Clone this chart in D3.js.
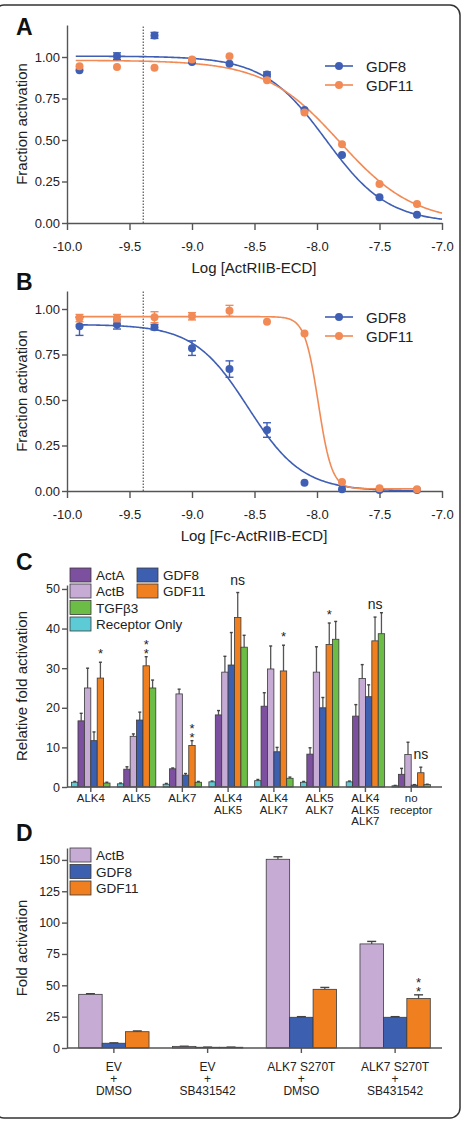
<!DOCTYPE html>
<html>
<head>
<meta charset="utf-8">
<script src="https://cdn.jsdelivr.net/npm/d3@7"></script>
<style>
  body { margin: 0; background: #fff; }
  text { font-family: "Liberation Sans", Arial, Helvetica, sans-serif; fill: #222; }
</style>
</head>
<body>
<svg id="fig" width="465" height="1128"></svg>
<script>
// ---- Panels A and B: dose response ----
const doseLog = [-9.9, -9.6, -9.3, -9.0, -8.7, -8.4, -8.1, -7.8, -7.5, -7.2];
const xTicksAB = [-10, -9.5, -9, -8.5, -8, -7.5, -7];
const xTickLabelsAB = ["-10.0", "-9.5", "-9.0", "-8.5", "-8.0", "-7.5", "-7.0"];
const yTicksAB = [0, 0.25, 0.5, 0.75, 1];
const yTickLabelsAB = ["0.00", "0.25", "0.50", "0.75", "1.00"];
const dashedLog = -9.39;

const aGdf8 = [0.92, 1.005, 1.13, 0.97, 0.96, 0.895, 0.68, 0.41, 0.155, 0.05];
const aGdf8Err = [0, 0.02, 0.018, 0, 0, 0.015, 0, 0, 0, 0];
const aGdf11 = [0.945, 0.94, 0.935, 0.985, 1.005, 0.86, 0.665, 0.475, 0.235, 0.115];
const aGdf11Err = [0, 0, 0, 0.01, 0, 0, 0, 0, 0, 0];
// fit parameters: top, bottom, logEC50, hill slope
const aFitGdf8 = [1.005, 0.0, -7.93, 1.75];
const aFitGdf11 = [0.98, 0.0, -7.82, 1.45];

const bGdf8 = [0.905, 0.915, 0.90, 0.785, 0.67, 0.335, 0.045, 0.01, 0.005, 0.005];
const bGdf8Err = [0.05, 0.025, 0.015, 0.04, 0.045, 0.04, 0, 0, 0, 0];
const bGdf11 = [0.95, 0.95, 0.955, 0.96, 0.99, 0.93, 0.865, 0.05, 0.015, 0.01];
const bGdf11Err = [0.02, 0.02, 0.03, 0.02, 0.03, 0, 0, 0, 0, 0];
const bFitGdf8 = [0.915, 0.0, -8.55, 2.0];
const bFitGdf11 = [0.958, 0.012, -7.99, 8];

// ---- Panel C ----
const cGroups = ["ALK4", "ALK5", "ALK7", "ALK4|ALK5", "ALK4|ALK7", "ALK5|ALK7", "ALK4|ALK5|ALK7", "no|receptor"];
const cReceptor = [1.2, 0.8, 0.7, 1.3, 1.6, 1.2, 1.3, 0.3];
const cReceptorErr = [0.2, 0.2, 0.2, 0.2, 0.3, 0.2, 0.2, 0.1];
const cActA = [16.7, 4.5, 4.6, 18.2, 20.4, 8.3, 17.9, 3.2];
const cActAErr = [1.9, 0.6, 0.2, 1.1, 3.4, 1.6, 2.9, 1.5];
const cActB = [25.0, 12.8, 23.5, 29.0, 29.8, 29.0, 27.4, 8.2];
const cActBErr = [5.0, 0.6, 1.2, 4.0, 5.8, 6.4, 3.5, 3.1];
const cGdf8 = [11.7, 16.9, 3.0, 30.8, 8.9, 20.0, 22.8, 0.5];
const cGdf8Err = [2.2, 2.0, 0.4, 8.2, 1.1, 2.6, 3.0, 0.1];
const cGdf11 = [27.5, 30.6, 10.5, 42.8, 29.3, 36.0, 36.9, 3.6];
const cGdf11Err = [4.0, 2.3, 1.2, 6.3, 6.5, 5.4, 6.0, 1.4];
const cTgfb3 = [1.0, 25.0, 1.2, 35.3, 2.2, 37.3, 38.7, 0.6];
const cTgfb3Err = [0.2, 2.0, 0.2, 3.0, 0.3, 4.5, 5.3, 0.1];
const cMarks = ["*", "**", "**", "ns", "*", "*", "ns", "ns"];
const cYTicks = [0, 10, 20, 30, 40, 50];

// ---- Panel D ----
const dGroups = ["EV|+|DMSO", "EV|+|SB431542", "ALK7 S270T|+|DMSO", "ALK7 S270T|+|SB431542"];
const dActB = [42.8, 1.3, 150.5, 83.0];
const dActBErr = [0.5, 0.1, 2.0, 2.0];
const dGdf8 = [3.8, 0.6, 24.5, 24.5];
const dGdf8Err = [0.3, 0.1, 0.5, 0.5];
const dGdf11 = [13.0, 0.6, 46.8, 39.4];
const dGdf11Err = [0.6, 0.1, 1.5, 3.0];
const dMarks = ["", "", "", "**"];
const dYTicks = [0, 25, 50, 75, 100, 125, 150];

const colors = {
  "GDF8line": "#3f5fb5", "GDF11line": "#f28a55",
  "Receptor Only": "#5ccbd6", "ActA": "#7c4f9f", "ActB": "#c6acd5",
  "GDF8": "#3c5fb0", "GDF11": "#f07f1f", "TGFβ3": "#6bbd46"
};
const axisColor = "#555";

const svg = d3.select("#fig");

// rounded frame round the figure
svg.append("rect")
  .attr("x", -6).attr("y", 5).attr("width", 466).attr("height", 1113)
  .attr("rx", 10).attr("fill", "none").attr("stroke", "#333").attr("stroke-width", 1.5);

function panelLetter(letter, x, y) {
  svg.append("text").attr("x", x).attr("y", y).text(letter)
    .style("font-size", "23px").style("font-weight", "bold").style("fill", "#111");
}

function styleAxis(g, fontSize) {
  g.selectAll("path, line").attr("stroke", axisColor).attr("stroke-width", 1.4);
  g.selectAll("text").style("font-size", fontSize + "px").style("fill", "#222");
}

function yTitle(text, cy) {
  svg.append("text")
    .attr("transform", "translate(27," + cy + ") rotate(-90)")
    .attr("text-anchor", "middle").style("font-size", "15px").text(text);
}

function logistic(p, x) {
  return p[1] + (p[0] - p[1]) / (1 + Math.pow(10, (x - p[2]) * p[3]));
}

// Draw one dose-response panel (A or B).
function dosePanel(o) {
  const x = d3.scaleLinear().domain([-10, -7]).range([67, 442]);
  const y = d3.scaleLinear().domain([0, 1]).range([o.y0, o.y1]);
  const yTop = y.invert(o.top);
  const ya = d3.scaleLinear().domain([0, yTop]).range([o.y0, o.top]);

  const gy = svg.append("g").attr("transform", "translate(67,0)")
    .call(d3.axisLeft(ya).tickValues(yTicksAB).tickFormat((d, i) => yTickLabelsAB[i])
      .tickSize(5).tickPadding(2).tickSizeOuter(0));
  styleAxis(gy, 13);

  const gx = svg.append("g").attr("transform", "translate(0," + o.y0 + ")")
    .call(d3.axisBottom(x).tickValues(xTicksAB).tickFormat((d, i) => xTickLabelsAB[i])
      .tickSize(7).tickPadding(12).tickSizeOuter(0));
  styleAxis(gx, 13);

  svg.append("text").attr("x", 254).attr("y", o.y0 + 50).attr("text-anchor", "middle")
    .style("font-size", "15px").text(o.xTitle);
  yTitle("Fraction activation", (o.y0 + o.top) / 2);

  // dotted reference line
  svg.append("line")
    .attr("x1", x(dashedLog)).attr("x2", x(dashedLog))
    .attr("y1", o.y0).attr("y2", o.top)
    .attr("stroke", "#555").attr("stroke-width", 1.2).attr("stroke-dasharray", "1.5,1.5");

  const series = [
    { name: "GDF8", vals: o.gdf8, err: o.gdf8Err, fit: o.fit8, color: colors.GDF8line },
    { name: "GDF11", vals: o.gdf11, err: o.gdf11Err, fit: o.fit11, color: colors.GDF11line }
  ];

  series.forEach(s => {
    const xs = d3.range(-9.93, o.xEnd + 0.001, 0.01);
    svg.append("path")
      .datum(xs)
      .attr("fill", "none").attr("stroke", s.color).attr("stroke-width", 1.6)
      .attr("d", d3.line().x(d => x(d)).y(d => y(logistic(s.fit, d))));
  });

  series.forEach(s => {
    const g = svg.append("g");
    doseLog.forEach((d, i) => {
      if (s.err[i] > 0) {
        const cx = x(d);
        const yl = y(s.vals[i] - s.err[i]), yh = y(s.vals[i] + s.err[i]);
        g.append("line").attr("x1", cx).attr("x2", cx).attr("y1", yl).attr("y2", yh)
          .attr("stroke", s.color).attr("stroke-width", 1.4);
        [yl, yh].forEach(yy => g.append("line").attr("x1", cx - 4).attr("x2", cx + 4)
          .attr("y1", yy).attr("y2", yy).attr("stroke", s.color).attr("stroke-width", 1.4));
      }
      g.append("circle").attr("cx", x(d)).attr("cy", y(s.vals[i])).attr("r", 4).attr("fill", s.color);
    });
  });

  // legend
  series.forEach((s, i) => {
    const ly = o.legY + i * 19;
    svg.append("line").attr("x1", 325).attr("x2", 353).attr("y1", ly).attr("y2", ly)
      .attr("stroke", s.color).attr("stroke-width", 1.6);
    svg.append("circle").attr("cx", 339).attr("cy", ly).attr("r", 4).attr("fill", s.color);
    svg.append("text").attr("x", 366).attr("y", ly + 5.5).style("font-size", "15px").text(s.name);
  });
}

panelLetter("A", 16, 35);
dosePanel({ y0: 223, y1: 57, top: 25, xTitle: "Log [ActRIIB-ECD]",
  gdf8: aGdf8, gdf8Err: aGdf8Err, gdf11: aGdf11, gdf11Err: aGdf11Err,
  fit8: aFitGdf8, fit11: aFitGdf11, xEnd: -7.0, legY: 66 });

panelLetter("B", 16, 290);
dosePanel({ y0: 491, y1: 309, top: 291, xTitle: "Log [Fc-ActRIIB-ECD]",
  gdf8: bGdf8, gdf8Err: bGdf8Err, gdf11: bGdf11, gdf11Err: bGdf11Err,
  fit8: bFitGdf8, fit11: bFitGdf11, xEnd: -7.2, legY: 317 });

// Grouped bar chart helper (C and D).
function barPanel(o) {
  const x0 = d3.scaleBand().domain(o.groups).range(o.xRange)
    .paddingInner(o.padIn).paddingOuter(o.padOut);
  const x1 = d3.scaleBand().domain(o.series.map(s => s.name)).range([0, x0.bandwidth()]);
  const y = d3.scaleLinear().domain([0, o.yMax]).range([o.y0, o.top]);

  const gy = svg.append("g").attr("transform", "translate(67,0)")
    .call(d3.axisLeft(y).tickValues(o.yTicks).tickFormat(d3.format("d"))
      .tickSize(5).tickPadding(2).tickSizeOuter(0));
  styleAxis(gy, 12.5);

  // bars
  o.series.forEach(s => {
    const g = svg.append("g");
    o.groups.forEach((grp, i) => {
      const bx = x0(grp) + x1(s.name);
      const bw = x1.bandwidth();
      const v = s.vals[i], e = s.err[i];
      if (e > 0) {
        const cx = bx + bw / 2;
        g.append("line").attr("x1", cx).attr("x2", cx).attr("y1", y(v)).attr("y2", y(v + e))
          .attr("stroke", "#555").attr("stroke-width", 1.3);
        g.append("line").attr("x1", cx - o.cap / 2).attr("x2", cx + o.cap / 2)
          .attr("y1", y(v + e)).attr("y2", y(v + e)).attr("stroke", "#444").attr("stroke-width", 1.4);
      }
      g.append("rect").attr("x", bx).attr("width", bw)
        .attr("y", y(v)).attr("height", y(0) - y(v))
        .attr("fill", colors[s.name]).attr("stroke", "#3a3a3a").attr("stroke-width", 0.8);
    });
  });

  // x axis: baseline, ticks and multi-line labels
  svg.append("line").attr("x1", 67).attr("x2", 442).attr("y1", o.y0).attr("y2", o.y0)
    .attr("stroke", axisColor).attr("stroke-width", 1.4);
  o.groups.forEach(grp => {
    const cx = x0(grp) + x0.bandwidth() / 2;
    svg.append("line").attr("x1", cx).attr("x2", cx).attr("y1", o.y0).attr("y2", o.y0 + 5)
      .attr("stroke", axisColor).attr("stroke-width", 1.4);
    const t = svg.append("text").attr("text-anchor", "middle").style("font-size", o.labelSize + "px");
    grp.split("|").forEach((line, k) => {
      t.append("tspan").attr("x", cx).attr("y", o.y0 + o.labelY + k * o.labelGap).text(line);
    });
  });

  // significance marks above the GDF11 bar
  const mark = o.series.find(s => s.name === "GDF11");
  o.groups.forEach((grp, i) => {
    const m = o.marks[i];
    if (!m) return;
    const cx = x0(grp) + x1("GDF11") + x1.bandwidth() / 2;
    const errTop = y(mark.vals[i] + mark.err[i]);
    if (m === "ns") {
      svg.append("text").attr("x", cx).attr("y", errTop - 8).attr("text-anchor", "middle")
        .style("font-size", "14px").text("ns");
    } else if (m.length === 1) {
      svg.append("text").attr("x", cx).attr("y", errTop - 4).attr("text-anchor", "middle")
        .style("font-size", "13px").text(m);
    } else {
      // stacked stars written top-to-bottom as one line of text
      svg.append("text").attr("x", cx).attr("y", errTop - 2)
        .attr("text-anchor", "end")
        .style("writing-mode", "vertical-rl")
        .style("text-orientation", "upright")
        .style("letter-spacing", "-6px")
        .style("font-size", "13px").text(m);
    }
  });

  // legend
  o.legend.forEach(l => {
    svg.append("rect").attr("x", l.x).attr("y", l.y - 7).attr("width", 21).attr("height", 14)
      .attr("fill", colors[l.name]).attr("stroke", "#3a3a3a").attr("stroke-width", 0.8);
    svg.append("text").attr("x", l.x + 26).attr("y", l.y + 5).style("font-size", "13.5px").text(l.name);
  });
}

panelLetter("C", 16, 570);
yTitle("Relative fold activation", 686);
barPanel({
  groups: cGroups,
  series: [
    { name: "Receptor Only", vals: cReceptor, err: cReceptorErr },
    { name: "ActA", vals: cActA, err: cActAErr },
    { name: "ActB", vals: cActB, err: cActBErr },
    { name: "GDF8", vals: cGdf8, err: cGdf8Err },
    { name: "GDF11", vals: cGdf11, err: cGdf11Err },
    { name: "TGFβ3", vals: cTgfb3, err: cTgfb3Err }
  ],
  xRange: [67, 435], padIn: 0.16, padOut: 0.1,
  y0: 787, top: 585, yMax: 51, yTicks: cYTicks, cap: 3,
  labelY: 15, labelGap: 11.5, labelSize: 11.5, marks: cMarks,
  legend: [
    { name: "ActA", x: 70, y: 575 }, { name: "GDF8", x: 137, y: 575 },
    { name: "ActB", x: 70, y: 591 }, { name: "GDF11", x: 137, y: 591 },
    { name: "TGFβ3", x: 70, y: 607.5 }, { name: "Receptor Only", x: 70, y: 624 }
  ]
});

panelLetter("D", 16, 841);
yTitle("Fold activation", 948);
barPanel({
  groups: dGroups,
  series: [
    { name: "ActB", vals: dActB, err: dActBErr },
    { name: "GDF8", vals: dGdf8, err: dGdf8Err },
    { name: "GDF11", vals: dGdf11, err: dGdf11Err }
  ],
  xRange: [67, 442], padIn: 0.25, padOut: 0.125,
  y0: 1048, top: 848, yMax: 159.5, yTicks: dYTicks, cap: 9,
  labelY: 23, labelGap: 12, labelSize: 12, marks: dMarks,
  legend: [
    { name: "ActB", x: 70, y: 855 }, { name: "GDF8", x: 70, y: 871.5 }, { name: "GDF11", x: 70, y: 888 }
  ]
});
</script>
</body>
</html>
